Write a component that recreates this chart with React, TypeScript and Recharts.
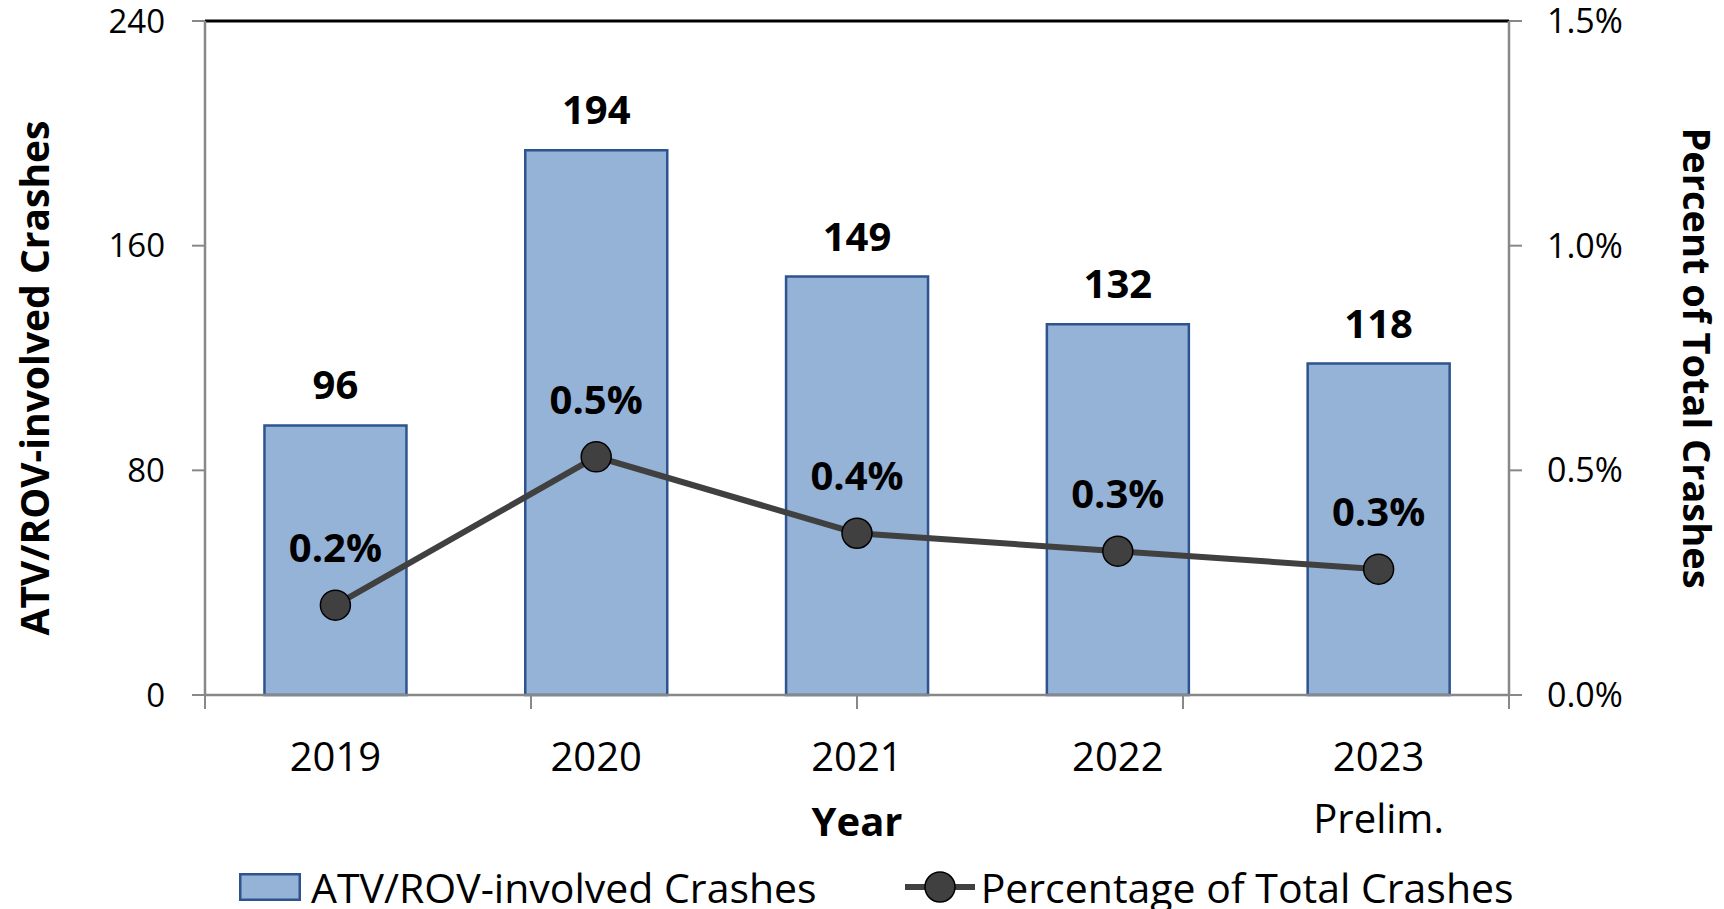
import React from 'react';
import {
  ComposedChart,
  Bar,
  Line,
  XAxis,
  YAxis,
  LabelList,
  ReferenceLine
} from 'recharts';

// values
const years = ['2019', '2020', '2021', '2022', '2023'];
const subLabels = ['', '', '', '', 'Prelim.'];
const crashes = [96, 194, 149, 132, 118];
const pctOfTotal = [0.2, 0.53, 0.36, 0.32, 0.28];

const leftTicks = [0, 80, 160, 240];
const rightTicks = [0, 0.5, 1.0, 1.5];
const boundaryTicks = [0, 1, 2, 3, 4, 5];

const FONT = '"Open Sans", sans-serif';
const AXIS_GRAY = '#888888';
const BAR_FILL = '#95B3D7';
const BAR_STROKE = '#2E5490';
const LINE_COLOR = '#404040';

const data = years.map((y, i) => ({
  year: y,
  sub: subLabels[i],
  crashes: crashes[i],
  pct: pctOfTotal[i]
}));

const YearTick = (props: any) => {
  const { x, y, payload, index } = props;
  const sub = subLabels[index];
  return (
    <g>
      <text x={x} y={y + 73} textAnchor="middle" fontSize={40} fontFamily={FONT} fill="#000">
        {payload.value}
      </text>
      {sub ? (
        <text x={x} y={y + 135} textAnchor="middle" fontSize={40} fontFamily={FONT} fill="#000">
          {sub}
        </text>
      ) : null}
    </g>
  );
};

// tick marks at the category boundaries, as in the original
const BoundaryTick = (props: any) => {
  const { x, y } = props;
  return <line x1={x} y1={y - 14} x2={x} y2={y} stroke={AXIS_GRAY} strokeWidth={2} />;
};

const barLabel = (props: any) => {
  const { x, y, width, value } = props;
  return (
    <text
      x={x + width / 2}
      y={y - 40 + 14}
      textAnchor="middle"
      fontSize={40}
      fontWeight={700}
      fontFamily={FONT}
      fill="#000"
    >
      {value}
    </text>
  );
};

const pctLabel = (props: any) => {
  const { x, y, value } = props;
  return (
    <text
      x={x}
      y={y - 57 + 14}
      textAnchor="middle"
      fontSize={40}
      fontWeight={700}
      fontFamily={FONT}
      fill="#000"
    >
      {`${Number(value).toFixed(1)}%`}
    </text>
  );
};

export default function App() {
  return (
    <div style={{ position: 'absolute', left: 0, top: 0, width: 1724, height: 909, background: '#fff' }}>
      <ComposedChart
        width={1724}
        height={909}
        data={data}
        margin={{ top: 21, right: 0, left: 0, bottom: 0 }}
        barCategoryGap="22.8%"
      >
        <XAxis
          xAxisId="b"
          dataKey="year"
          height={213}
          axisLine={false}
          tickLine={false}
          tickSize={0}
          interval={0}
          tick={<YearTick />}
          label={{
            content: (p: any) => {
              const vb = p.viewBox;
              return (
                <text
                  x={vb.x + vb.width / 2}
                  y={vb.y + 126 + 14}
                  textAnchor="middle"
                  fontSize={40}
                  fontWeight={700}
                  fontFamily={FONT}
                  fill="#000"
                >
                  Year
                </text>
              );
            }
          }}
        />
        {/* numeric axis only used for the boundary ticks */}
        <XAxis
          xAxisId="a"
          type="number"
          domain={[0, 5]}
          ticks={boundaryTicks}
          allowDataOverflow
          interval={0}
          height={1}
          axisLine={{ stroke: AXIS_GRAY, strokeWidth: 2.5 }}
          tickLine={false}
          tickSize={14}
          tickMargin={0}
          tick={<BoundaryTick />}
        />
        <YAxis
          yAxisId="left"
          orientation="left"
          width={205}
          domain={[0, 240]}
          ticks={leftTicks}
          interval={0}
          axisLine={{ stroke: AXIS_GRAY, strokeWidth: 2.5 }}
          tickLine={{ stroke: AXIS_GRAY, strokeWidth: 2 }}
          tickSize={13}
          tickMargin={27}
          tick={{ fontSize: 33, fontFamily: FONT, fill: '#000' }}
          label={{
            content: (p: any) => {
              const vb = p.viewBox;
              const cx = vb.x + 35;
              const cy = vb.y + vb.height / 2 + 20;
              return (
                <text
                  x={cx}
                  y={cy}
                  transform={`rotate(-90 ${cx} ${cy})`}
                  dy={14}
                  textAnchor="middle"
                  fontSize={39}
                  fontWeight={700}
                  fontFamily={FONT}
                  fill="#000"
                >
                  ATV/ROV-involved Crashes
                </text>
              );
            }
          }}
        />
        <YAxis
          yAxisId="right"
          orientation="right"
          width={215}
          domain={[0, 1.5]}
          ticks={rightTicks}
          interval={0}
          axisLine={{ stroke: AXIS_GRAY, strokeWidth: 2.5 }}
          tickLine={{ stroke: AXIS_GRAY, strokeWidth: 2 }}
          tickSize={13}
          tickMargin={25}
          tickFormatter={(v: number) => `${v.toFixed(1)}%`}
          tick={{ fontSize: 34, fontFamily: FONT, fill: '#000' }}
          label={{
            content: (p: any) => {
              const vb = p.viewBox;
              const cx = vb.x + 187;
              const cy = vb.y + vb.height / 2;
              return (
                <text
                  x={cx}
                  y={cy}
                  transform={`rotate(90 ${cx} ${cy})`}
                  dy={13}
                  textAnchor="middle"
                  fontSize={38}
                  fontWeight={700}
                  fontFamily={FONT}
                  fill="#000"
                >
                  Percent of Total Crashes
                </text>
              );
            }
          }}
        />
        <ReferenceLine yAxisId="left" xAxisId="b" y={240} stroke="#000" strokeWidth={3} />
        <Bar
          xAxisId="b"
          yAxisId="left"
          dataKey="crashes"
          fill={BAR_FILL}
          stroke={BAR_STROKE}
          strokeWidth={2.5}
          isAnimationActive={false}
        >
          <LabelList dataKey="crashes" content={barLabel} />
        </Bar>
        <Line
          xAxisId="b"
          yAxisId="right"
          dataKey="pct"
          stroke={LINE_COLOR}
          strokeWidth={6}
          dot={{ r: 15, fill: LINE_COLOR, stroke: '#000', strokeWidth: 1.5 }}
          activeDot={false}
          isAnimationActive={false}
        >
          <LabelList dataKey="pct" content={pctLabel} />
        </Line>
      </ComposedChart>

      {/* legend */}
      <div
        style={{
          position: 'absolute',
          left: 239,
          top: 864,
          height: 46,
          lineHeight: '46px',
          display: 'flex',
          alignItems: 'center',
          fontFamily: FONT,
          fontSize: 41,
          color: '#000',
          whiteSpace: 'nowrap'
        }}
      >
        <svg width={62} height={28} style={{ marginRight: 10 }}>
          <rect x={1.25} y={1.25} width={59.5} height={25.5} fill={BAR_FILL} stroke={BAR_STROKE} strokeWidth={2.5} />
        </svg>
        <span>ATV/ROV-involved Crashes</span>
        <svg width={70} height={34} style={{ marginLeft: 88, marginRight: 6 }}>
          <line x1={0} y1={17} x2={70} y2={17} stroke={LINE_COLOR} strokeWidth={6} />
          <circle cx={35} cy={17} r={15} fill={LINE_COLOR} stroke="#000" strokeWidth={1.5} />
        </svg>
        <span>Percentage of Total Crashes</span>
      </div>
    </div>
  );
}
